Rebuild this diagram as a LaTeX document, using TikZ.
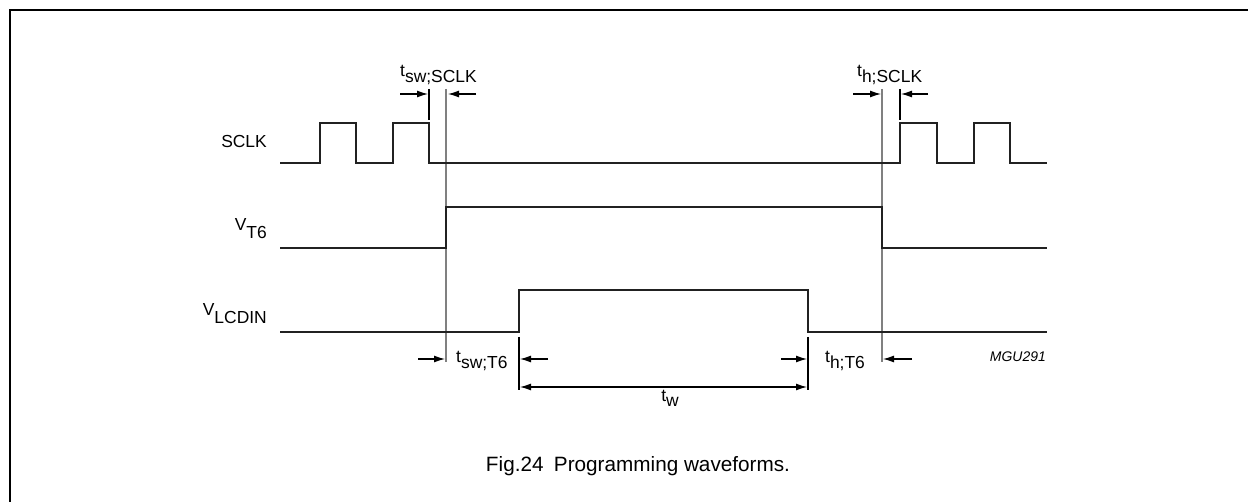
\documentclass[tikz,border=0pt]{standalone}
\usepackage{fontspec}
\setmainfont{Liberation Sans}
\usetikzlibrary{arrows.meta}
\newcommand\tsub[2]{#1\raisebox{-0.3em}{#2}}
\newcommand\vsub[2]{#1\raisebox{-0.42em}{#2}}
\begin{document}
\begin{tikzpicture}[x=1bp,y=-1bp,
  wave/.style={line width=2.8bp, black!87, line join=miter},
  guide/.style={line width=1.2bp, black!50},
  tickline/.style={line width=1.2bp, black},
  dimarrow/.style={line width=1.2bp, -{Latex[length=11bp,width=7bp]}},
  dimboth/.style={line width=1.2bp, {Latex[length=11bp,width=7bp]}-{Latex[length=11bp,width=7bp]}},
  lbl/.style={font=\fontsize{17.5}{20}\selectfont, inner sep=0pt},
  captext/.style={font=\fontsize{20.8}{24}\selectfont, inner sep=0pt},
  codetext/.style={font=\fontsize{14}{16}\selectfont\itshape, inner sep=0pt}]
\useasboundingbox (0,0) rectangle (1248,502);
% frame
\coordinate (fbl) at (10,502);
\coordinate (ftl) at (10,10);
\coordinate (ftr) at (1248,10);
\draw[line width=2bp] (fbl) -- (ftl) -- (ftr);
% guide lines
\coordinate (g1t) at (446,89); \coordinate (g1b) at (446,362);
\coordinate (g2t) at (882,89); \coordinate (g2b) at (882,362);
\draw[guide] (g1t) -- (g1b);
\draw[guide] (g2t) -- (g2b);
% waveforms
\draw[wave] (280,163) -- (320,163) -- (320,123) -- (356,123) -- (356,163) -- (393,163) -- (393,123) -- (429,123) -- (429,163)
  -- (900,163) -- (900,123) -- (937,123) -- (937,163) -- (974,163) -- (974,123) -- (1010,123) -- (1010,163) -- (1047,163);
\draw[wave] (280,248) -- (446,248) -- (446,207) -- (882,207) -- (882,248) -- (1047,248);
\draw[wave] (280,332) -- (519,332) -- (519,290) -- (808,290) -- (808,332) -- (1047,332);
% ticks
\coordinate (k1t) at (429,89); \coordinate (k1b) at (429,120);
\coordinate (k2t) at (900,89); \coordinate (k2b) at (900,120);
\coordinate (k3t) at (519,337); \coordinate (k3b) at (519,390);
\coordinate (k4t) at (808,337); \coordinate (k4b) at (808,390);
\draw[tickline] (k1t) -- (k1b);
\draw[tickline] (k2t) -- (k2b);
\draw[tickline] (k3t) -- (k3b);
\draw[tickline] (k4t) -- (k4b);
% dimension arrows
\coordinate (a1s) at (400,94); \coordinate (a1e) at (428,94);
\coordinate (a2s) at (476,94); \coordinate (a2e) at (448,94);
\coordinate (a3s) at (853,94); \coordinate (a3e) at (881,94);
\coordinate (a4s) at (928,94); \coordinate (a4e) at (901,94);
\coordinate (a5s) at (418,359); \coordinate (a5e) at (445,359);
\coordinate (a6s) at (548,359); \coordinate (a6e) at (520,359);
\coordinate (a7s) at (781,359); \coordinate (a7e) at (807,359);
\coordinate (a8s) at (912,359); \coordinate (a8e) at (883,359);
\coordinate (w1) at (520,387); \coordinate (w2) at (807,387);
\draw[dimarrow] (a1s) -- (a1e);
\draw[dimarrow] (a2s) -- (a2e);
\draw[dimarrow] (a3s) -- (a3e);
\draw[dimarrow] (a4s) -- (a4e);
\draw[dimarrow] (a5s) -- (a5e);
\draw[dimarrow] (a6s) -- (a6e);
\draw[dimarrow] (a7s) -- (a7e);
\draw[dimarrow] (a8s) -- (a8e);
\draw[dimboth] (w1) -- (w2);
% labels
\node[lbl, anchor=base east] (lsclk) at (267,148) {SCLK};
\node[lbl, anchor=base east] (lvt6) at (267,231) {\vsub{V}{T6}};
\node[lbl, anchor=base east] (lvlcd) at (267,316) {\vsub{V}{LCDIN}};
\node[lbl, anchor=base west] (ltsws) at (400,77) {\tsub{t}{sw;SCLK}};
\node[lbl, anchor=base west] (lths) at (857,77) {\tsub{t}{h;SCLK}};
\node[lbl, anchor=base west] (ltswt) at (456,363) {\tsub{t}{sw;T6}};
\node[lbl, anchor=base west] (ltht) at (825,363) {\tsub{t}{h;T6}};
\node[lbl, anchor=base] (ltw) at (670,401) {\tsub{t}{w}};
\node[codetext, anchor=base east] (lcode) at (1046,362) {MGU291};
\node[captext, anchor=base] (lcap) at (638,471) {Fig.24\hspace{0.5em}Programming waveforms.};
\end{tikzpicture}
\end{document}
